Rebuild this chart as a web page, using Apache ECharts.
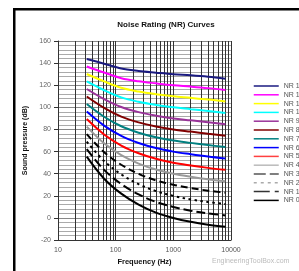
<!DOCTYPE html>
<html><head><meta charset="utf-8">
<script src="https://cdn.jsdelivr.net/npm/echarts@6/dist/echarts.min.js"></script>
<style>html,body{margin:0;padding:0;background:#fff}#c{width:299px;height:271px}</style>
</head><body><div id="c"></div>
<script>
const freqs = [31.5, 63, 125, 250, 500, 1000, 2000, 4000, 8000];
const nr0   = [55.4, 35.5, 22.0, 12.0, 4.8, 0, -3.5, -6.1, -8.0];
const nr10  = [62.2, 43.5, 30.7, 21.3, 14.5, 10, 6.6, 4.2, 2.3];
const nr20  = [69.0, 51.5, 39.4, 30.6, 24.3, 20, 16.8, 14.4, 12.6];
const nr30  = [75.8, 59.5, 48.1, 39.9, 34.0, 30, 27.1, 24.7, 22.9];
const nr40  = [82.6, 67.5, 56.8, 49.2, 43.8, 40, 37.3, 35.0, 33.2];
const nr50  = [89.4, 75.5, 65.5, 58.5, 53.5, 50, 47.5, 45.3, 43.5];
const nr60  = [96.2, 83.5, 74.2, 67.8, 63.2, 60, 57.7, 55.6, 53.8];
const nr70  = [103.0, 91.5, 82.9, 77.1, 73.0, 70, 67.9, 65.9, 64.1];
const nr80  = [109.8, 99.5, 91.6, 86.4, 82.7, 80, 78.1, 76.2, 74.4];
const nr90  = [116.6, 107.5, 100.3, 95.7, 92.5, 90, 88.3, 86.5, 84.7];
const nr100 = [123.4, 115.5, 109.0, 105.0, 102.2, 100, 98.4, 96.8, 95.0];
const nr110 = [130.2, 123.5, 117.7, 114.3, 111.9, 110, 108.6, 107.1, 105.3];
const nr120 = [137.0, 131.5, 126.4, 123.6, 121.7, 120, 118.8, 117.4, 115.6];
const nr130 = [143.8, 139.5, 135.1, 132.9, 131.4, 130, 129.0, 127.7, 125.9];
const seriesNames = ['NR 130','NR 120','NR 110','NR 100','NR 90','NR 80','NR 70','NR 60','NR 50','NR 40','NR 30','NR 20','NR 10','NR 0'];
const seriesValues = [nr130,nr120,nr110,nr100,nr90,nr80,nr70,nr60,nr50,nr40,nr30,nr20,nr10,nr0];
const minorFreqs = [20,30,40,50,60,70,80,90,200,300,400,500,600,700,800,900,2000,3000,4000,5000,6000,7000,8000,9000];
const xTicks = [10, 100, 1000, 10000];
const yMin = -20, yMax = 160, yStep = 20;

const styles = [
  {color:'#1a1a80', type:'solid'},
  {color:'#ff00ff', type:'solid'},
  {color:'#ffff00', type:'solid'},
  {color:'#00ffff', type:'solid'},
  {color:'#993399', type:'solid'},
  {color:'#800000', type:'solid'},
  {color:'#008080', type:'solid'},
  {color:'#0000ff', type:'solid'},
  {color:'#ff0000', type:'solid'},
  {color:'#999999', type:'solid'},
  {color:'#000000', type:[7,4]},
  {color:'#000000', type:[2.5,3.5]},
  {color:'#000000', type:[9,4]},
  {color:'#000000', type:'solid'}
];
const legendLine = [
  {color:'#1a1a80', type:'solid'},
  {color:'#ff00ff', type:'solid'},
  {color:'#ffff00', type:'solid'},
  {color:'#00ffff', type:'solid'},
  {color:'#993399', type:'solid'},
  {color:'#800000', type:'solid'},
  {color:'#008080', type:'solid'},
  {color:'#0000ff', type:'solid'},
  {color:'#ff4040', type:'solid'},
  {color:'#bbbbbb', type:'solid'},
  {color:'#555555', type:[12,4]},
  {color:'#aaaaaa', type:[3,4]},
  {color:'#333333', type:[16,5]},
  {color:'#000000', type:'solid'}
];

const series = seriesNames.map((n,i)=>({
  name:n, type:'line', symbol:'none', smooth:0.35,
  data: freqs.map((f,j)=>[f, seriesValues[i][j]]),
  lineStyle:{color:styles[i].color, type:styles[i].type, width:2},
  itemStyle:{color:styles[i].color},
  z:5
}));
series.push({
  name:'grid', type:'line', data:[], silent:true,
  markLine:{silent:true, symbol:'none', label:{show:false},
    lineStyle:{color:'#333', type:'solid', width:1},
    data: minorFreqs.map(f=>({xAxis:f}))},
  z:1
});

const chart = echarts.init(document.getElementById('c'), null, {renderer:'canvas'});
chart.setOption({
  animation:false,
  backgroundColor:'#fff',
  title:{text:'Noise Rating (NR) Curves', left:161, top:16, textAlign:'center',
    textStyle:{fontFamily:'Liberation Sans', fontSize:8, fontWeight:'bold', color:'#111'}},
  grid:{left:58, right:68, top:41, bottom:29},
  legend:{orient:'vertical', left:253, top:82.5, padding:0, itemWidth:25, itemHeight:7, itemGap:1.8,
    itemStyle:{opacity:0},
    data: seriesNames.map((n,i)=>({name:n, itemStyle:{opacity:0},
      lineStyle:{color:legendLine[i].color, type:legendLine[i].type, width:1.5}})),
    selectedMode:false,
    textStyle:{fontFamily:'Liberation Sans', fontSize:7, color:'#555'}},
  xAxis:{type:'log', logBase:10, min:xTicks[0], max:xTicks[xTicks.length-1],
    name:'Frequency (Hz)', nameLocation:'middle', nameGap:14,
    nameTextStyle:{fontFamily:'Liberation Sans', fontSize:7.5, fontWeight:'bold', color:'#111'},
    axisLine:{onZero:false, lineStyle:{color:'#333'}}, axisTick:{show:false},
    axisLabel:{fontFamily:'Liberation Sans', fontSize:7, color:'#555', margin:6, formatter:v=>String(v)},
    splitLine:{show:true, lineStyle:{color:'#333', width:1}}},
  yAxis:{type:'value', min:yMin, max:yMax, interval:yStep,
    name:'Sound pressure (dB)', nameLocation:'middle', nameGap:25, nameRotate:90,
    nameTextStyle:{fontFamily:'Liberation Sans', fontSize:7, fontWeight:'bold', color:'#111'},
    axisLine:{show:true, lineStyle:{color:'#333'}}, axisTick:{show:true, length:4, lineStyle:{color:'#333'}},
    axisLabel:{fontFamily:'Liberation Sans', fontSize:7, color:'#666', margin:7},
    splitLine:{show:true, lineStyle:{color:'#888', width:1}},
    minorTick:{show:false, splitNumber:5},
    minorSplitLine:{show:true, lineStyle:{color:'#aaa', width:1}}},
  graphic:[
    {type:'rect', left:13, top:8, shape:{width:2.5, height:263}, style:{fill:'#000'}},
    {type:'rect', left:13, top:8, shape:{width:286, height:2.5}, style:{fill:'#000'}},
    {type:'text', left:212, top:258, style:{text:'EngineeringToolBox.com', fontFamily:'Liberation Sans', fontSize:7, fill:'#bbb'}}
  ],
  series
});
</script></body></html>
